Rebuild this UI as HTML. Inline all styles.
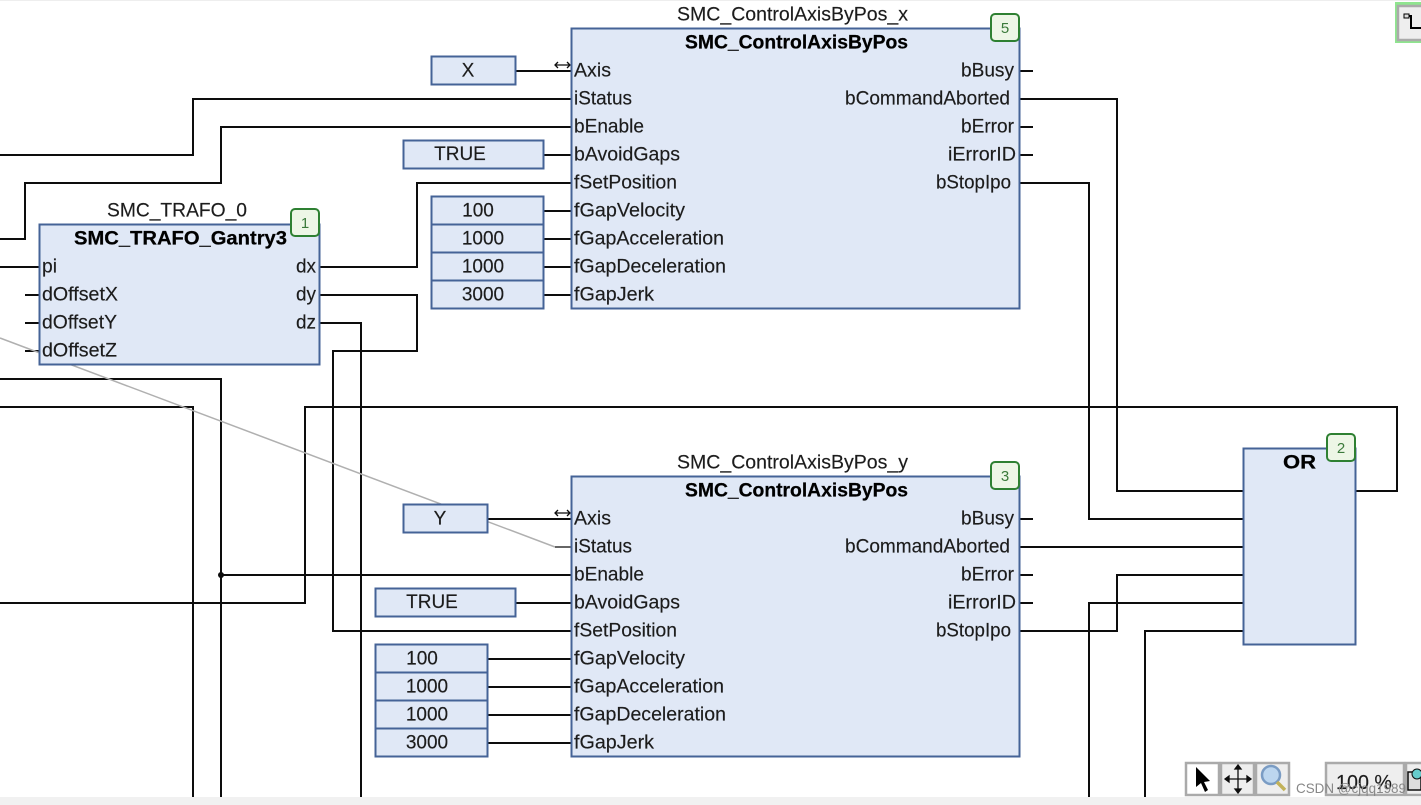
<!DOCTYPE html>
<html><head><meta charset="utf-8">
<style>
html,body{margin:0;padding:0;background:#fff;width:1421px;height:805px;overflow:hidden}
svg{display:block;position:absolute;left:0;top:0}
text{font-family:"Liberation Sans",sans-serif;font-size:19px;fill:#1c1c1c;stroke:#1c1c1c;stroke-width:0.15}
.b{font-weight:bold;fill:#000;stroke:#000;stroke-width:0.25}
.n{fill:#e0e8f6;stroke:#456497;stroke-width:2}
.w{fill:none;stroke:#111;stroke-width:2}
.g{fill:#edf6e6;stroke:#2f8033;stroke-width:2}
.t{fill:#eee;stroke:#aaa;stroke-width:2.5}
</style></head><body>
<svg width="1421" height="805" viewBox="0 0 1421 805" xmlns="http://www.w3.org/2000/svg">
<defs><filter id="s" x="-2%" y="-2%" width="104%" height="104%"><feGaussianBlur stdDeviation="0.35"/></filter></defs>
<g filter="url(#s)">
<rect x="0" y="797" width="1421" height="8" fill="#f1f1f1"/>
<rect x="0" y="0" width="1421" height="1" fill="#eee"/>

<!-- wires -->
<path class="w" d="M0 155H193V99H571M0 239H25V183H221V127H571M0 267H39M25 295H39M25 323H39M25 351H39
M320 267H417V183H571M320 295H417V351H333V631H571M320 323H361V797M0 379H221V797M221 575H571M0 407H193V797
M0 603H305V407H1397V491H1355M1019 99H1117V491H1243M1019 183H1089V519H1243M1019 547H1243M1243 575H1117V631H1019
M1243 603H1089V797M1243 631H1145V797
M1019 71H1033M1019 127H1033M1019 155H1033M1019 519H1033M1019 575H1033M1019 603H1033
M515 71H571M487 519H571M543 155H571M515 603H571
M543 211H571M543 239H571M543 267H571M543 295H571M487 659H571M487 687H571M487 715H571M487 743H571"/>
<circle cx="221" cy="575" r="3" fill="#111"/>
<path d="M0 338L555 547" fill="none" stroke="#b0b0b0" stroke-width="1.5"/>
<path d="M555 547H571" fill="none" stroke="#666" stroke-width="2"/>
<path d="M555 65H570M558 62L555 65L558 68M567 62L570 65L567 68M555 513H570M558 510L555 513L558 516M567 510L570 513L567 516" fill="none" stroke="#111" stroke-width="1.3"/>

<!-- blocks -->
<rect class="n" x="571.5" y="28.5" width="448" height="280"/>
<rect class="n" x="571.5" y="476.5" width="448" height="280"/>
<rect class="n" x="39.5" y="224.5" width="280" height="140"/>
<rect class="n" x="1243.5" y="448.5" width="112" height="196"/>

<!-- inputs -->
<rect class="n" x="431.5" y="56.5" width="84" height="28"/>
<rect class="n" x="403.5" y="140.5" width="140" height="28"/>
<rect class="n" x="431.5" y="196.5" width="112" height="28"/>
<rect class="n" x="431.5" y="224.5" width="112" height="28"/>
<rect class="n" x="431.5" y="252.5" width="112" height="28"/>
<rect class="n" x="431.5" y="280.5" width="112" height="28"/>
<rect class="n" x="403.5" y="504.5" width="84" height="28"/>
<rect class="n" x="375.5" y="588.5" width="140" height="28"/>
<rect class="n" x="375.5" y="644.5" width="112" height="28"/>
<rect class="n" x="375.5" y="672.5" width="112" height="28"/>
<rect class="n" x="375.5" y="700.5" width="112" height="28"/>
<rect class="n" x="375.5" y="728.5" width="112" height="28"/>

<!-- badges -->
<rect class="g" x="991" y="14" width="28" height="27" rx="4"/>
<rect class="g" x="991" y="462" width="28" height="27" rx="4"/>
<rect class="g" x="291" y="209" width="28" height="27" rx="4"/>
<rect class="g" x="1327" y="434" width="28" height="27" rx="4"/>
</g>

<g filter="url(#s)">
<text x="677" y="20.5" textLength="231" lengthAdjust="spacingAndGlyphs">SMC_ControlAxisByPos_x</text>
<text x="677" y="468.5" textLength="231" lengthAdjust="spacingAndGlyphs">SMC_ControlAxisByPos_y</text>
<text x="107" y="216.5" textLength="140" lengthAdjust="spacingAndGlyphs">SMC_TRAFO_0</text>
<text class="b" x="685" y="48.5" textLength="223" lengthAdjust="spacingAndGlyphs">SMC_ControlAxisByPos</text>
<text class="b" x="685" y="496.5" textLength="223" lengthAdjust="spacingAndGlyphs">SMC_ControlAxisByPos</text>
<text class="b" x="74" y="244.5" textLength="213" lengthAdjust="spacingAndGlyphs">SMC_TRAFO_Gantry3</text>
<text class="b" x="1283" y="468.5" textLength="33" lengthAdjust="spacingAndGlyphs">OR</text>

<g text-anchor="middle">
<text x="1005" y="33" style="font-size:15px;fill:#3a7a3a;stroke:none">5</text>
<text x="1005" y="481" style="font-size:15px;fill:#3a7a3a;stroke:none">3</text>
<text x="305" y="228" style="font-size:15px;fill:#3a7a3a;stroke:none">1</text>
<text x="1341" y="453" style="font-size:15px;fill:#3a7a3a;stroke:none">2</text>
</g>

<!-- top FB -->
<text x="574" y="76.5" textLength="37" lengthAdjust="spacingAndGlyphs">Axis</text>
<text x="574" y="104.5" textLength="58" lengthAdjust="spacingAndGlyphs">iStatus</text>
<text x="574" y="132.5" textLength="70" lengthAdjust="spacingAndGlyphs">bEnable</text>
<text x="574" y="160.5" textLength="106" lengthAdjust="spacingAndGlyphs">bAvoidGaps</text>
<text x="574" y="188.5" textLength="103" lengthAdjust="spacingAndGlyphs">fSetPosition</text>
<text x="574" y="216.5" textLength="111" lengthAdjust="spacingAndGlyphs">fGapVelocity</text>
<text x="574" y="244.5" textLength="150" lengthAdjust="spacingAndGlyphs">fGapAcceleration</text>
<text x="574" y="272.5" textLength="152" lengthAdjust="spacingAndGlyphs">fGapDeceleration</text>
<text x="574" y="300.5" textLength="80" lengthAdjust="spacingAndGlyphs">fGapJerk</text>
<text x="961" y="76.5" textLength="53" lengthAdjust="spacingAndGlyphs">bBusy</text>
<text x="845" y="104.5" textLength="165" lengthAdjust="spacingAndGlyphs">bCommandAborted</text>
<text x="961" y="132.5" textLength="53" lengthAdjust="spacingAndGlyphs">bError</text>
<text x="948" y="160.5" textLength="68" lengthAdjust="spacingAndGlyphs">iErrorID</text>
<text x="936" y="188.5" textLength="75" lengthAdjust="spacingAndGlyphs">bStopIpo</text>

<!-- bottom FB -->
<text x="574" y="524.5" textLength="37" lengthAdjust="spacingAndGlyphs">Axis</text>
<text x="574" y="552.5" textLength="58" lengthAdjust="spacingAndGlyphs">iStatus</text>
<text x="574" y="580.5" textLength="70" lengthAdjust="spacingAndGlyphs">bEnable</text>
<text x="574" y="608.5" textLength="106" lengthAdjust="spacingAndGlyphs">bAvoidGaps</text>
<text x="574" y="636.5" textLength="103" lengthAdjust="spacingAndGlyphs">fSetPosition</text>
<text x="574" y="664.5" textLength="111" lengthAdjust="spacingAndGlyphs">fGapVelocity</text>
<text x="574" y="692.5" textLength="150" lengthAdjust="spacingAndGlyphs">fGapAcceleration</text>
<text x="574" y="720.5" textLength="152" lengthAdjust="spacingAndGlyphs">fGapDeceleration</text>
<text x="574" y="748.5" textLength="80" lengthAdjust="spacingAndGlyphs">fGapJerk</text>
<text x="961" y="524.5" textLength="53" lengthAdjust="spacingAndGlyphs">bBusy</text>
<text x="845" y="552.5" textLength="165" lengthAdjust="spacingAndGlyphs">bCommandAborted</text>
<text x="961" y="580.5" textLength="53" lengthAdjust="spacingAndGlyphs">bError</text>
<text x="948" y="608.5" textLength="68" lengthAdjust="spacingAndGlyphs">iErrorID</text>
<text x="936" y="636.5" textLength="75" lengthAdjust="spacingAndGlyphs">bStopIpo</text>

<!-- trafo -->
<text x="42" y="272.5" textLength="15" lengthAdjust="spacingAndGlyphs">pi</text>
<text x="42" y="300.5" textLength="76" lengthAdjust="spacingAndGlyphs">dOffsetX</text>
<text x="42" y="328.5" textLength="75" lengthAdjust="spacingAndGlyphs">dOffsetY</text>
<text x="42" y="356.5" textLength="75" lengthAdjust="spacingAndGlyphs">dOffsetZ</text>
<text x="296" y="272.5" textLength="20" lengthAdjust="spacingAndGlyphs">dx</text>
<text x="296" y="300.5" textLength="20" lengthAdjust="spacingAndGlyphs">dy</text>
<text x="296" y="328.5" textLength="20" lengthAdjust="spacingAndGlyphs">dz</text>

<!-- input values -->
<g text-anchor="middle">
<text x="468" y="76.5">X</text>
<text x="460" y="160">TRUE</text>
<text x="478" y="216.5">100</text>
<text x="483" y="244.5">1000</text>
<text x="483" y="272.5">1000</text>
<text x="483" y="300.5">3000</text>
<text x="440" y="524.5">Y</text>
<text x="432" y="608">TRUE</text>
<text x="422" y="664.5">100</text>
<text x="427" y="692.5">1000</text>
<text x="427" y="720.5">1000</text>
<text x="427" y="748.5">3000</text>
</g>

<!-- toolbar -->
<rect x="1395" y="2" width="30" height="41" fill="#8fe58f"/>
<rect x="1398" y="6" width="30" height="34" class="t"/>
<path d="M1406 16H1411V28H1421" fill="none" stroke="#000" stroke-width="2"/>
<rect x="1404" y="14" width="5" height="4" fill="#ddd" stroke="#000"/>
<rect class="t" x="1186" y="763" width="33" height="32" style="fill:#fff"/>
<rect class="t" x="1221" y="763" width="33" height="32"/>
<rect class="t" x="1256" y="763" width="33" height="32"/>
<rect class="t" x="1326" y="763" width="78" height="32"/>
<rect class="t" x="1406" y="763" width="20" height="32"/>
<path d="M1196 767V787L1201 783L1205 792L1208 790L1204 782L1210 781Z" fill="#000"/>
<path d="M1227 779H1249M1238 768V790M1238 765l-3 4h6zM1238 793l-3-4h6zM1225 779l4-3v6zM1251 779l-4-3v6z" stroke="#111" stroke-width="1.3" fill="#111"/>
<circle cx="1271" cy="775" r="9" fill="#bcd6ef" stroke="#7a9cc4" stroke-width="2.5"/>
<path d="M1277 782L1285 790" stroke="#c2b25a" stroke-width="3.5"/>
<text x="1336" y="789" style="font-size:20px" textLength="56" lengthAdjust="spacingAndGlyphs">100 %</text>
<path d="M1408 772h13v18h-13z" fill="#ddd" stroke="#111" stroke-width="1.5"/>
<circle cx="1417" cy="774" r="5" fill="#6cc" stroke="#111"/>
<text x="1296" y="793" style="font-size:14px;fill:#888;stroke:none" textLength="110" lengthAdjust="spacingAndGlyphs">CSDN @cjqq1989</text>
</g>
</svg>
</body></html>
